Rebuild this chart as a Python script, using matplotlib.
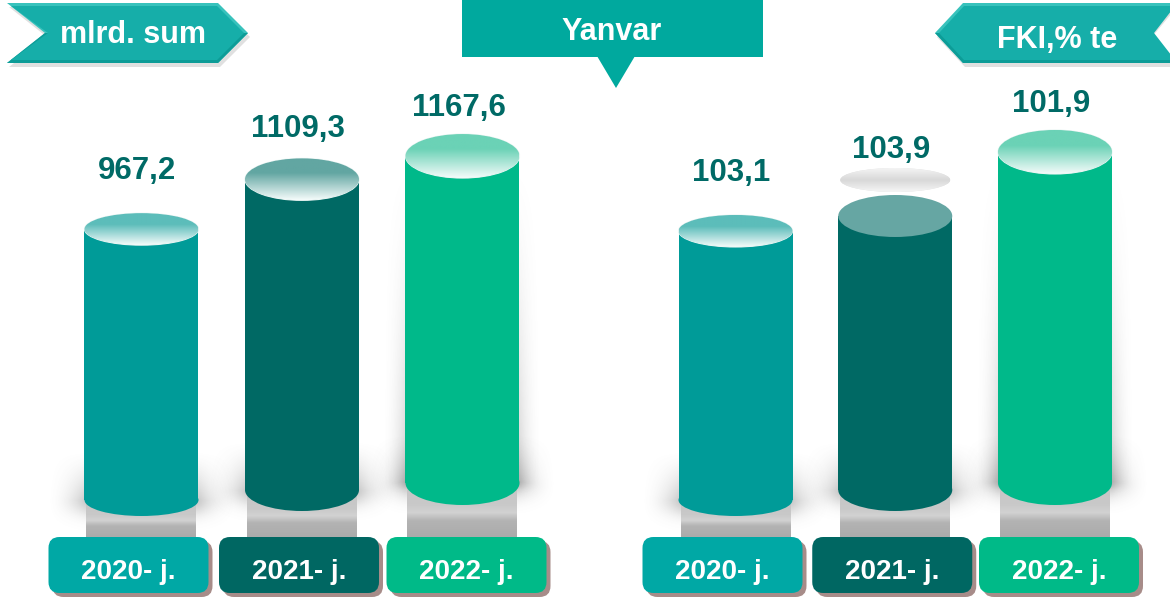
import numpy as np
import matplotlib.pyplot as plt
from matplotlib.patches import Ellipse, Rectangle, Polygon, FancyBboxPatch
from matplotlib.colors import to_rgb

# data
years = ['2020- j.', '2021- j.', '2022- j.']
volume = [967.2, 1109.3, 1167.6]      # mlrd. sum
fki = [103.1, 103.9, 101.9]           # FKI, % te
# the FKI cylinders in the source are not drawn to scale: heights as drawn
fki_drawn = [269, 274, 331]
fki_ghost = 310                        # faded top left over above 2021

# style
body = ['#009B98', '#006964', '#00B98A']
tint = ['#5CBDBA', '#62A6A2', '#6BD2B6']
boxc = ['#00A8A5', '#006762', '#00BA88']
txt_c = '#006A66'
base_px = [500, 490, 483]       # bottom of each cylinder, px from top
hh_px = [16, 21, 22]            # half height of the end ellipses
gap_px = [50, 42, 40]           # value label baseline above top
box_shift = [-13, -3, 4]

W, H = 1170, 597
plt.rcParams['font.family'] = ['Liberation Sans', 'DejaVu Sans']
fig = plt.figure(figsize=(W / 100, H / 100), dpi=100)

bg = fig.add_axes([0, 0, 1, 1], zorder=0)
bg.set_xlim(0, W)
bg.set_ylim(H, 0)
bg.axis('off')


def vgrad(ax, x0, x1, y0, y1, colors, stops, z, clip=None):
    t = np.linspace(0, 1, 80)
    rgb = np.array([to_rgb(c) for c in colors])
    img = np.stack([np.interp(t, stops, rgb[:, k]) for k in range(3)], axis=-1)
    im = ax.imshow(img[:, None, :], extent=[x0, x1, y0, y1], origin='upper',
                   aspect='auto', zorder=z, interpolation='bilinear')
    if clip is not None:
        im.set_clip_path(clip)
    return im


def halo(ax, cx, cy, hw, kx, ky, sx, sy, up, a, z, color=(0.35, 0.35, 0.35)):
    # soft shadow, sizes in px
    xs = np.linspace(-hw - sx, hw + sx, 90)
    ys = np.linspace(-sy, up, 90)
    dx = np.clip(np.abs(xs) - hw, 0, None) / sx
    fx = np.clip(1 - dx, 0, 1) ** 2
    fy = np.where(ys < 0, np.exp(-(ys / (sy * 0.5)) ** 2),
                  np.clip(1 - ys / up, 0, 1) ** 1.5)
    al = a * fy[::-1, None] * fx[None, :]
    img = np.zeros((90, 90, 4))
    img[..., :3] = color
    img[..., 3] = al
    ax.imshow(img, extent=[cx - (hw + sx) * kx, cx + (hw + sx) * kx,
                           cy - sy * ky, cy + up * ky],
              origin='upper', aspect='auto', zorder=z, interpolation='bilinear')


def panel(rect, centers_px, xscale, heights, ky, labels, ghost=None):
    ax = fig.add_axes(rect, zorder=1)
    x0px = rect[0] * W
    x1px = (rect[0] + rect[2]) * W
    kx = 1 / xscale
    xlim = ((x0px - centers_px) * kx, (x1px - centers_px) * kx)
    ylim = (0, H * ky)
    w = 114 * kx
    for i, h in enumerate(heights):
        yb = (H - base_px[i]) * ky
        yt = yb + h
        hh = hh_px[i] * ky
        # shadow & grey reflection
        halo(ax, i, yb, 57, kx, ky, 40, 30, 50, 0.32, 0.5)
        if i == 2:
            halo(ax, i, yb, 57, kx, ky, 24, 12, h / ky, 0.28, 0.6)
        vgrad(ax, i - w / 2 + 2 * kx, i + w / 2 - 2 * kx, (H - 537) * ky, yb,
              ['#C4C4C4', '#C9C9C9', '#D2D2D2', '#B3B3B3', '#ABABAB'],
              [0, 0.4, 0.55, 0.7, 1], 0.8)
        # body
        ax.add_patch(Ellipse((i, yb), w, 2 * hh, fc=body[i], ec='none', zorder=3))
        ax.add_patch(Rectangle((i - w / 2, yb), w, yt - yb, fc=body[i], ec='none', zorder=3))
        # top
        top = Ellipse((i, yt), w, 2 * hh, fc=tint[i], ec='#E8F4F2', lw=0.8, zorder=4)
        ax.add_patch(top)
        if ghost is not None and i == 1:
            top.set_facecolor('#66A6A3')
            top.set_edgecolor('none')
        else:
            vgrad(ax, i - w / 2, i + w / 2, yt - hh, yt + hh,
                  [tint[i], tint[i], '#F4FBFA'], [0, 0.35, 1], 4.1, clip=top)
        lvl = yt
        gap = gap_px[i]
        if ghost is not None and i == 1:
            gy = (H - base_px[i]) * ky + ghost
            g = Ellipse((i, gy), 110 * kx, 24 * ky, fc='#E0E0E0', ec='none', zorder=2)
            ax.add_patch(g)
            vgrad(ax, i - 55 * kx, i + 55 * kx, gy - 12 * ky, gy + 12 * ky,
                  ['#F4F4F4', '#D8D8D8', '#F6F6F6'], [0, 0.5, 1], 2.1, clip=g)
            lvl, gap = gy, 22
        ax.text(i - 4 * kx, lvl + gap * ky, labels[i], ha='center', va='baseline',
                fontsize=22.5, fontweight='bold', color=txt_c, zorder=5)
    ax.set_xlim(*xlim)
    ax.set_ylim(*ylim)
    ax.axis('off')
    # year boxes on the background axes, under each cylinder
    for i, yl in enumerate(years):
        cx = centers_px + i * xscale + box_shift[i]
        bg.add_patch(FancyBboxPatch((cx - 80 + 4, 537 + 4), 160, 56,
                                    boxstyle='round,pad=0,rounding_size=11',
                                    fc='#A78C89', ec='none', zorder=2))
        bg.add_patch(FancyBboxPatch((cx - 80, 537), 160, 56,
                                    boxstyle='round,pad=0,rounding_size=11',
                                    fc=boxc[i], ec='none', zorder=3))
        bg.text(cx, 579, yl, ha='center', va='baseline', fontsize=20,
                fontweight='bold', color='white', zorder=4)
    return ax


left = panel([0, 0, 0.5, 1], 141.5, 160.5, [v for v in volume], 1 / 0.28,
             [f'{v:.1f}'.replace('.', ',') for v in volume])
right = panel([0.5, 0, 0.5, 1], 735.5, 159.75, fki_drawn, 1.0,
              [f'{v:.1f}'.replace('.', ',') for v in fki], ghost=fki_ghost)

# header ribbons
lrib = [(7, 3), (218, 3), (248, 33), (218, 63), (7, 63), (45, 33)]
rrib = [(935, 33), (963, 3), (1175, 3), (1150, 33), (1175, 63), (963, 63)]
for pts in (lrib, rrib):
    sh = [(x + 2, y + 4) for x, y in pts]
    bg.add_patch(Polygon(sh, closed=True, fc='#9A9A9A', ec='none', alpha=0.3, zorder=2))
    bg.add_patch(Polygon(pts, closed=True, fc='#38C2BC', ec='none', zorder=3))
    bot = [(x, max(y, 33)) for x, y in pts]
    bg.add_patch(Polygon(bot, closed=True, fc='#0D9C97', ec='none', zorder=3.1))
inl = [(11, 6), (217, 6), (244, 33), (217, 60), (11, 60), (48, 33)]
inr = [(939, 33), (964, 6), (1175, 6), (1154, 33), (1175, 60), (964, 60)]
for pts in (inl, inr):
    bg.add_patch(Polygon(pts, closed=True, fc='#16AEA9', ec='none', zorder=3.2))
bg.text(133, 43, 'mlrd. sum', ha='center', va='baseline', fontsize=22,
        fontweight='bold', color='white', zorder=4)
bg.text(1057, 48, 'FKI,% te', ha='center', va='baseline', fontsize=22,
        fontweight='bold', color='white', zorder=4)

# month header
bg.add_patch(Rectangle((462, 0), 301, 57, fc='#00A99E', ec='none', zorder=3))
bg.add_patch(Polygon([(597, 56), (635, 56), (616, 88)], closed=True,
                     fc='#00A99E', ec='none', zorder=3))
bg.text(612, 40, 'Yanvar', ha='center', va='baseline', fontsize=22,
        fontweight='bold', color='white', zorder=4)

fig.savefig('out.png', dpi=100, facecolor='white')
